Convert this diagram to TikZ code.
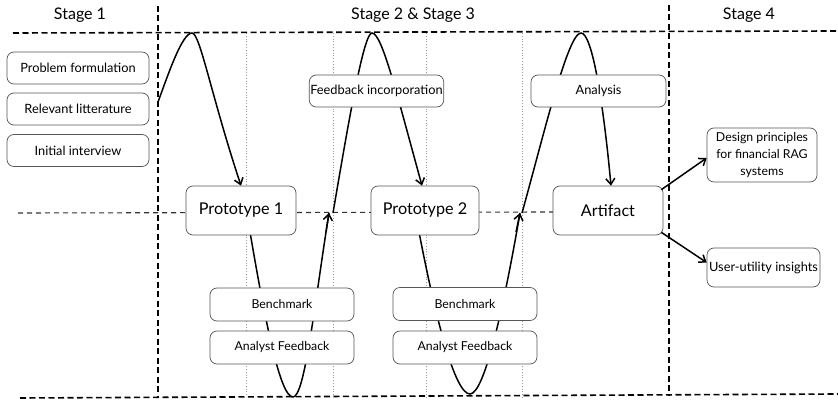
\documentclass[tikz,border=0pt]{standalone}
\usepackage{fontspec}
\setmainfont{Lato}
\usetikzlibrary{arrows.meta}
\definecolor{boxgray}{HTML}{555555}
\definecolor{dotgray}{HTML}{9A9A9A}
\begin{document}
\begin{tikzpicture}[x=1pt,y=-1pt,
  box/.style={draw=boxgray, fill=white, rounded corners=7pt, line width=0.7pt, align=center, inner sep=1pt},
  small/.style={box, minimum width=142pt, minimum height=32pt, font=\fontsize{12.8}{15}\selectfont},
  proto/.style={box, minimum width=110pt, minimum height=49pt, font=\fontsize{16.2}{19}\selectfont},
  eval/.style={box, minimum width=144pt, minimum height=33pt, font=\fontsize{12.3}{14}\selectfont},
  header/.style={font=\fontsize{16}{19}\selectfont},
  stageline/.style={line width=1.6pt, dash pattern=on 6pt off 3.5pt},
  midline/.style={line width=1.1pt, draw=black!80, dash pattern=on 5pt off 4pt},
  dotline/.style={line width=0.6pt, draw=dotgray, dash pattern=on 1pt off 1.8pt},
  wave/.style={line width=1.5pt},
  arr/.style={-{Straight Barb[length=6pt,width=9pt]}}
]
\useasboundingbox (0,0) rectangle (838,406);

% dotted guide lines
\draw[dotline] (246,33) -- (246,397);
\draw[dotline] (333,33) -- (333,397);
\draw[dotline] (426,33) -- (426,398);
\draw[dotline] (522,33) -- (522,398);

% middle dashed
\draw[midline] (18,213) -- (553,212);

% stage lines
\draw[stageline] (13,33) -- (838,31);
\draw[stageline] (20,398) -- (838,394);
\draw[stageline] (158,6) -- (158,397);
\draw[stageline] (669,5) -- (669,396);

% headers
\node[header] (h1) at (80,15) {Stage 1};
\node[header] (h2) at (413,15) {Stage 2 \& Stage 3};
\node[header] (h4) at (749,15) {Stage 4};

% wave coordinates
\coordinate (w0) at (158,102);
\coordinate (w1) at (329,213);
\coordinate (w1b) at (333,213);
\coordinate (w2) at (520,213);
\coordinate (w2b) at (522,213);
\coordinate (b1) at (250,232);
\coordinate (b2) at (419,232);

% wave segments (drawn before boxes)
\draw[wave] (b1) .. controls (265,320) and (280,397) .. (293,397)
  .. controls (305,397) and (315,300) .. (w1);
\draw[wave] (b2) .. controls (436,320) and (455,394) .. (470,394)
  .. controls (485,394) and (505,300) .. (w2);

% boxes
\node[small] (pf) at (78,68) {Problem formulation};
\node[small] (rl) at (78,109) {Relevant litterature};
\node[small] (ii) at (78,150.5) {Initial interview};

\node[proto] (p1) at (241,210.5) {Prototype 1};
\node[proto, minimum width=108pt] (p2) at (425,210.5) {Prototype 2};
\node[proto] (art) at (608,210.5) {Artifact};

\node[eval] (bm1) at (282,304.5) {Benchmark};
\node[eval] (af1) at (282,347.5) {Analyst Feedback};
\node[eval] (bm2) at (465,304) {Benchmark};
\node[eval] (af2) at (465,347.5) {Analyst Feedback};

% upper wave segments
\draw[wave, arr] (w0) .. controls (168,75) and (182,33) .. (192,33)
  .. controls (200,33) and (211,95) .. (p1.north);
\draw[wave, arr] (w1b) .. controls (350,113) and (364,33) .. (372,33)
  .. controls (382,33) and (397,95) .. ([xshift=-3pt]p2.north);
\draw[wave, arr] (w2b) .. controls (545,130) and (568,33) .. (581,33)
  .. controls (592,33) and (603,100) .. ([xshift=3pt]art.north);

% arrowheads for lower segments
\draw[wave, arr] (326,232) -- (w1);
\draw[wave, arr] (516,232) -- (w2);

\node[small, minimum width=133pt] (fi) at (376.5,91) {Feedback incorporation};
\node[small, minimum width=135pt] (an) at (598.5,91) {Analysis};

\node[small, minimum width=110pt, minimum height=54pt, font=\fontsize{12.3}{17}\selectfont] (dp) at (762,155) {Design principles\\for financial RAG\\systems};
\node[small, minimum width=113pt, minimum height=39pt, font=\fontsize{12.8}{15}\selectfont] (uu) at (763.5,267.5) {User-utility insights};

\draw[wave, arr] ([xshift=-2pt,yshift=-4pt]art.north east) -- ([yshift=-3pt]dp.west);
\draw[wave, arr] ([xshift=-2pt,yshift=3pt]art.south east) -- ([yshift=5pt]uu.west);
\end{tikzpicture}
\end{document}
